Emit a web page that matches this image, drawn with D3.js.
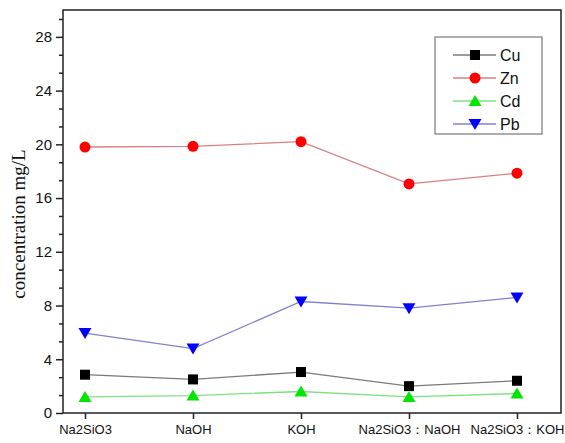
<!DOCTYPE html>
<html>
<head>
<meta charset="utf-8">
<script src="https://cdn.jsdelivr.net/npm/d3@7"></script>
<style>
  body { margin: 0; background: #fff; }
  text { font-family: Arial, "Liberation Sans", sans-serif; }
</style>
</head>
<body>
<div id="chart"></div>
<script>
// data
const categories = ["Na2SiO3", "NaOH", "KOH", "Na2SiO3：NaOH", "Na2SiO3：KOH"];
const cu = [2.85, 2.5, 3.05, 2.0, 2.4];
const zn = [19.8, 19.85, 20.2, 17.05, 17.85];
const cd = [1.2, 1.3, 1.6, 1.2, 1.45];
const pb = [5.95, 4.8, 8.3, 7.8, 8.6];
const yTicks = [0, 4, 8, 12, 16, 20, 24, 28];

const seriesNames = ["Cu", "Zn", "Cd", "Pb"];
const seriesValues = [cu, zn, cd, pb];
const lineColors = ["#7a7a7a", "#d98080", "#80e080", "#8080d0"];
const markColors = ["#000000", "#ff0000", "#00e600", "#0000ff"];
const symbols = ["square", "circle", "up", "down"];

const width = 565, height = 443;
const margin = { top: 10, right: 4, bottom: 30, left: 63 };

const svg = d3.select("#chart").append("svg")
  .attr("width", width)
  .attr("height", height);

const x = d3.scalePoint()
  .domain(categories)
  .range([85, 517]);

const y = d3.scaleLinear()
  .domain([0, 30])
  .range([height - margin.bottom, margin.top]);

// minor ticks every 4/3
const minor = d3.range(0, 31, 4 / 3).filter(v => v <= 30 && !yTicks.some(t => Math.abs(t - v) < 1e-6));

svg.append("g")
  .attr("transform", `translate(${margin.left},0)`)
  .call(d3.axisLeft(y).tickValues(minor).tickSize(4).tickFormat(""))
  .call(g => g.select(".domain").remove())
  .call(g => g.selectAll("line").attr("stroke", "#222").attr("stroke-width", 1.5));

svg.append("g")
  .attr("transform", `translate(${margin.left},0)`)
  .call(d3.axisLeft(y).tickValues(yTicks).tickSize(7).tickPadding(4))
  .call(g => g.select(".domain").remove())
  .call(g => g.selectAll("line").attr("stroke", "#222").attr("stroke-width", 1.5))
  .call(g => g.selectAll("text").attr("font-size", 15).attr("fill", "#111"));

svg.append("g")
  .attr("transform", `translate(0,${height - margin.bottom})`)
  .call(d3.axisBottom(x).tickSize(6).tickPadding(6))
  .call(g => g.select(".domain").remove())
  .call(g => g.selectAll("line").attr("stroke", "#222").attr("stroke-width", 1.5))
  .call(g => g.selectAll("text").attr("font-size", 13).attr("fill", "#111"));

// frame
svg.append("rect")
  .attr("x", margin.left)
  .attr("y", margin.top)
  .attr("width", width - margin.left - margin.right)
  .attr("height", height - margin.top - margin.bottom)
  .attr("fill", "none")
  .attr("stroke", "#222")
  .attr("stroke-width", 1.5);

// y title
svg.append("text")
  .attr("transform", "translate(25,224) rotate(-90)")
  .attr("text-anchor", "middle")
  .style("font-family", "'Liberation Serif', 'Times New Roman', serif")
  .attr("font-size", 19)
  .attr("fill", "#111")
  .text("concentration mg/L");

function drawMarker(g, kind, color) {
  if (kind === "square") {
    g.append("rect").attr("x", -5).attr("y", -5).attr("width", 10).attr("height", 10).attr("fill", color);
  } else if (kind === "circle") {
    g.append("circle").attr("r", 5.5).attr("fill", color);
  } else if (kind === "up") {
    g.append("path").attr("d", "M0,-6L6.5,5L-6.5,5Z").attr("fill", color);
  } else {
    g.append("path").attr("d", "M0,6L6.5,-5L-6.5,-5Z").attr("fill", color);
  }
}

const line = d3.line()
  .x((d, i) => x(categories[i]))
  .y(d => y(d));

seriesValues.forEach((vals, s) => {
  svg.append("path")
    .datum(vals)
    .attr("d", line)
    .attr("fill", "none")
    .attr("stroke", lineColors[s])
    .attr("stroke-width", 1.3);

  svg.selectAll(null)
    .data(vals)
    .join("g")
    .attr("transform", (d, i) => `translate(${x(categories[i])},${y(d)})`)
    .each(function () { drawMarker(d3.select(this), symbols[s], markColors[s]); });
});

// legend
const legend = svg.append("g");
legend.append("rect")
  .attr("x", 435).attr("y", 37)
  .attr("width", 107).attr("height", 97)
  .attr("fill", "#fff")
  .attr("stroke", "#777")
  .attr("stroke-width", 1.2);

seriesNames.forEach((name, s) => {
  const ly = 55 + s * 23;
  legend.append("line")
    .attr("x1", 453).attr("x2", 496)
    .attr("y1", ly).attr("y2", ly)
    .attr("stroke", lineColors[s])
    .attr("stroke-width", 1.3);
  const m = legend.append("g").attr("transform", `translate(475,${ly})`);
  drawMarker(m, symbols[s], markColors[s]);
  legend.append("text")
    .attr("x", 500).attr("y", ly + 6)
    .attr("font-size", 16)
    .attr("fill", "#111")
    .text(name);
});
</script>
</body>
</html>
